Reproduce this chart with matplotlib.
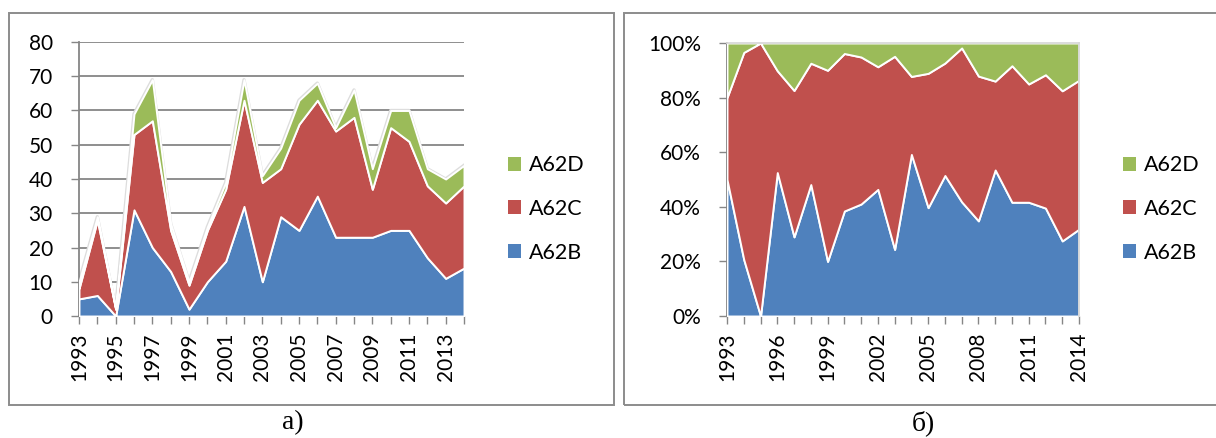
import matplotlib
matplotlib.use('Agg')
import matplotlib.pyplot as plt
import numpy as np
from matplotlib.patches import Rectangle, Patch
from matplotlib.ticker import FuncFormatter, FixedLocator

# ---------------- data ----------------
years = list(range(1993, 2015))
a62b = [5, 6, 0, 31, 20, 13, 2, 10, 16, 32, 10, 29, 25, 35, 23, 23, 23, 25, 25, 17, 11, 14]
a62c = [3, 22, 2, 22, 37, 12, 7, 15, 21, 31, 29, 14, 31, 28, 31, 35, 14, 30, 26, 21, 22, 24]
a62d = [2, 1, 0, 6, 12, 2, 1, 1, 2, 6, 2, 6, 7, 5, 1, 8, 6, 5, 9, 5, 7, 6]
series_names = ['A62B', 'A62C', 'A62D']
left_yticks = [0, 10, 20, 30, 40, 50, 60, 70, 80]
right_yticks = [0, 0.2, 0.4, 0.6, 0.8, 1.0]
panel_labels = ['а)', 'б)']

colors = ['#4F81BD', '#C0504D', '#9BBB59']
grey = '#868686'

plt.rcParams['font.family'] = ['Lato', 'DejaVu Sans']

W, H = 1216, 438
fig = plt.figure(figsize=(W / 100, H / 100), dpi=100)


def rect(x0, y0, x1, y1):
    return [x0 / W, 1 - y1 / H, (x1 - x0) / W, (y1 - y0) / H]


# panel borders
fig.add_artist(Rectangle((9 / W, 1 - 405 / H), (614 - 9) / W, (405 - 13) / H,
                         transform=fig.transFigure, fill=False, ec='#8C8C8C', lw=1.4))
fig.add_artist(Rectangle((624 / W, 1 - 405 / H), (1240 - 624) / W, (405 - 13) / H,
                         transform=fig.transFigure, fill=False, ec='#8C8C8C', lw=1.4))

x = np.arange(len(years))
B = np.array(a62b, float)
C = np.array(a62c, float)
D = np.array(a62d, float)
tot = B + C + D


def draw_areas(ax, b, c, d):
    top = b + c + d
    ax.plot(x, top, color='#DDDDDD', lw=2.4, zorder=2)
    ax.stackplot(x, b, c, d, colors=colors, edgecolor='white', linewidth=1.4, zorder=3)


def style_axes(ax, label_every):
    ax.set_xlim(0, len(years) - 1)
    ax.xaxis.set_major_locator(FixedLocator(x))
    ax.set_xticklabels([str(y) if i % label_every == 0 else '' for i, y in enumerate(years)],
                       rotation=90)
    ax.tick_params(axis='both', direction='out', length=5.8, width=1.0, color=grey,
                   labelsize=15, labelcolor='black')
    ax.tick_params(axis='y', pad=13)
    ax.tick_params(axis='x', pad=6)
    for s in ['left', 'bottom']:
        ax.spines[s].set_color(grey)
        ax.spines[s].set_linewidth(1.3)


def add_legend(x_left):
    handles = [Patch(fc=colors[2], ec='none'), Patch(fc=colors[1], ec='none'),
               Patch(fc=colors[0], ec='none')]
    labels = [series_names[2], series_names[1], series_names[0]]
    fig.legend(handles, labels, loc='center left', bbox_to_anchor=(x_left / W, 1 - 209 / H),
               bbox_transform=fig.transFigure, frameon=False, fontsize=15.5,
               handlelength=0.62, handleheight=0.62, handletextpad=0.35,
               labelspacing=1.1, borderaxespad=0, borderpad=0)


# ---------------- left chart ----------------
ax1 = fig.add_axes(rect(79, 42, 464, 316))
ax1.set_ylim(0, 80)
ax1.set_yticks(left_yticks)
ax1.grid(axis='y', color=grey, lw=1.3, zorder=0)
ax1.set_axisbelow(True)
draw_areas(ax1, B, C, D)
style_axes(ax1, 2)
ax1.spines['top'].set_visible(False)
ax1.spines['right'].set_visible(False)
add_legend(508)

# ---------------- right chart ----------------
ax2 = fig.add_axes(rect(727, 43, 1079, 316))
ax2.set_ylim(0, 1)
ax2.set_yticks(right_yticks)
ax2.yaxis.set_major_formatter(FuncFormatter(lambda v, p: f'{int(round(v * 100))}%'))
draw_areas(ax2, B / tot, C / tot, D / tot)
style_axes(ax2, 3)
for s in ['top', 'right']:
    ax2.spines[s].set_color('#D9D9D9')
    ax2.spines[s].set_linewidth(1.3)
    ax2.spines[s].set_zorder(5)
add_legend(1123)

# panel captions
fig.text(293 / W, 1 - 423 / H, panel_labels[0], ha='center', va='center',
         fontsize=20, family='Liberation Serif')
fig.text(923 / W, 1 - 423 / H, panel_labels[1], ha='center', va='center',
         fontsize=20, family='Liberation Serif')

fig.savefig('out.png', dpi=100)
